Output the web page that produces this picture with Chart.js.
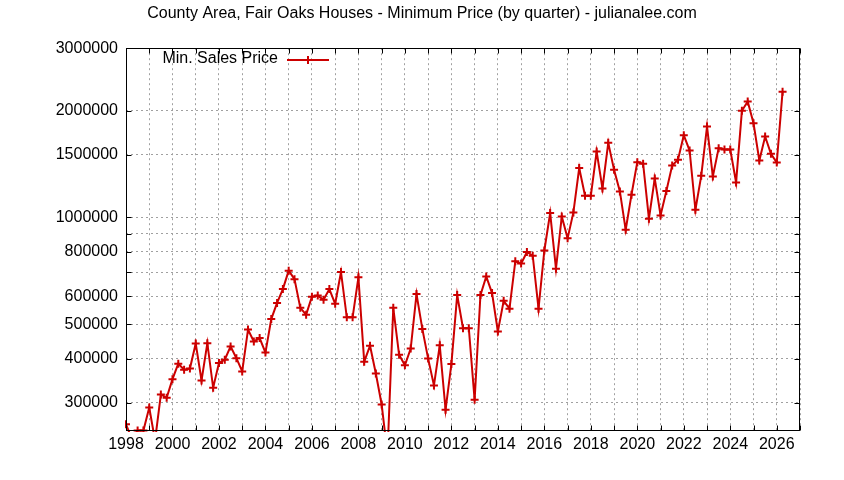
<!DOCTYPE html>
<html>
<head>
<meta charset="utf-8">
<script src="https://cdn.jsdelivr.net/npm/chart.js@4/dist/chart.umd.min.js"></script>
<style>
html,body{margin:0;padding:0;background:#fff;}
#wrap{width:844px;height:480px;position:relative;}
</style>
</head>
<body>
<div id="wrap"><canvas id="c" width="844" height="480"></canvas></div>
<script>
// ---- data ----
const chartTitle = 'County Area, Fair Oaks Houses - Minimum Price (by quarter) - julianalee.com';
const seriesLabel = 'Min. Sales Price';
const firstQuarterYear = 1998;   // first quarter of the series
const quarterStep = 0.25;        // one quarter in years
const minPrices = [
  261000, 238000, 251000, 251000,   // 1998
  291000, 235000, 317000, 310000,   // 1999
  350000, 387000, 372000, 375000,   // 2000
  441000, 347000, 442000, 331000,   // 2001
  389000, 397000, 433000, 401000,   // 2002
  368000, 483000, 447000, 457000,   // 2003
  416000, 517000, 574000, 628000,   // 2004
  708000, 670000, 556000, 532000,   // 2005
  598000, 602000, 586000, 628000,   // 2006
  571000, 702000, 523000, 523000,   // 2007
  678000, 392000, 435000, 363000,   // 2008
  297000, 215000, 556000, 410000,   // 2009
  383000, 427000, 608000, 485000,   // 2010
  400000, 336000, 436000, 287000,   // 2011
  386000, 604000, 487000, 487000,   // 2012
  306000, 604000, 682000, 612000,   // 2013
  477000, 582000, 553000, 752000,   // 2014
  741000, 799000, 780000, 553000,   // 2015
  807000, 1029000, 717000, 1006000, // 2016
  873000, 1033000, 1378000, 1151000,// 2017
  1151000, 1534000, 1207000, 1623000,// 2018
  1362000, 1184000, 923000, 1159000,// 2019
  1432000, 1417000, 992000, 1288000,// 2020
  1013000, 1187000, 1401000, 1454000,// 2021
  1706000, 1544000, 1051000, 1310000,// 2022
  1804000, 1304000, 1568000, 1554000,// 2023
  1554000, 1255000, 1998000, 2122000,// 2024
  1844000, 1447000, 1691000, 1511000,// 2025
  1428000, 2263000                  // 2026
];
const xMinYear = 1998;
const xMaxYear = 2027;
const xLabelYears = [1998, 2000, 2002, 2004, 2006, 2008, 2010, 2012, 2014, 2016, 2018, 2020, 2022, 2024, 2026];
const yMin = 250000;
const yMax = 3000000;
const yGridValues = [300000, 400000, 500000, 600000, 700000, 800000, 900000, 1000000, 1500000, 2000000, 3000000];
const yLabelValues = [300000, 400000, 500000, 600000, 800000, 1000000, 1500000, 2000000, 3000000];

// ---- style ----
const RED = '#cc0000';
const GRID = '#a0a0a0';
const FONT = "'Liberation Sans', Arial, sans-serif";

const points = minPrices.map((v, i) => ({ x: firstQuarterYear + i * quarterStep, y: v }));

Chart.defaults.font.family = FONT;
Chart.defaults.font.size = 16;
Chart.defaults.color = '#000';

const framePlugin = {
  id: 'frame',
  afterLayout(chart) {
    // centre the title over the whole canvas (like the reference)
    const tb = chart.titleBlock;
    if (tb) { tb.left = 0; tb.right = chart.width; tb.width = chart.width; }
  },
  afterDraw(chart) {
    const { ctx, chartArea: a, scales } = chart;
    const xs = scales.x, ys = scales.y;
    const L = Math.round(a.left) + 0.5, R = Math.round(a.right) - 0.5;
    const T = Math.round(a.top) + 0.5, B = Math.round(a.bottom) - 0.5;
    ctx.save();
    ctx.strokeStyle = '#000';
    ctx.lineWidth = 1;
    ctx.setLineDash([]);
    ctx.beginPath();
    xs.ticks.forEach(t => {
      const px = Math.round(xs.getPixelForValue(t.value)) + 0.5;
      ctx.moveTo(px, B); ctx.lineTo(px, B - 5);
      ctx.moveTo(px, T); ctx.lineTo(px, T + 5);
    });
    ys.ticks.forEach(t => {
      const py = Math.round(ys.getPixelForValue(t.value)) + 0.5;
      ctx.moveTo(L, py); ctx.lineTo(L + 5, py);
      ctx.moveTo(R, py); ctx.lineTo(R - 5, py);
    });
    ctx.stroke();
    ctx.strokeRect(L, T, R - L, B - T);

    // key (legend) inside plot, top-left
    const ds = chart.data.datasets[0];
    ctx.font = '16px ' + FONT;
    ctx.fillStyle = '#000';
    ctx.textAlign = 'right';
    ctx.textBaseline = 'middle';
    ctx.fillText(ds.label, 278, 59);
    ctx.strokeStyle = RED;
    ctx.lineWidth = 2;
    ctx.beginPath();
    ctx.moveTo(287, 60); ctx.lineTo(329, 60);
    ctx.moveTo(308, 56); ctx.lineTo(308, 64);
    ctx.stroke();
    ctx.restore();
  }
};

new Chart(document.getElementById('c'), {
  type: 'line',
  data: {
    datasets: [{
      label: seriesLabel,
      data: points,
      borderColor: RED,
      backgroundColor: RED,
      borderWidth: 2,
      tension: 0,
      pointStyle: 'cross',
      pointRadius: 4,
      pointBorderWidth: 2,
      pointBorderColor: RED,
      pointHoverRadius: 4,
      clip: 1,
      fill: false
    }]
  },
  options: {
    responsive: false,
    animation: false,
    devicePixelRatio: 1,
    events: [],
    layout: { padding: { left: 0, right: 44, top: 0, bottom: 0 } },
    plugins: {
      legend: { display: false },
      tooltip: { enabled: false },
      title: {
        display: true,
        text: chartTitle,
        color: '#000',
        font: { size: 16, weight: 'normal', family: FONT },
        padding: { top: 4, bottom: 25 }
      }
    },
    scales: {
      x: {
        type: 'linear',
        min: xMinYear,
        max: xMaxYear,
        afterFit(s) { s.height = 49; },
        afterBuildTicks(s) {
          const t = [];
          for (let yr = xMinYear; yr <= xMaxYear; yr++) t.push({ value: yr });
          s.ticks = t;
        },
        ticks: {
          autoSkip: false,
          maxRotation: 0,
          padding: 4,
          color: '#000',
          callback: (v) => xLabelYears.includes(v) ? String(v) : ''
        },
        grid: { color: GRID, lineWidth: 1, drawTicks: false },
        border: { display: false, dash: [2, 3] }
      },
      y: {
        type: 'logarithmic',
        min: yMin,
        max: yMax,
        afterFit(s) { s.width = 126; },
        afterBuildTicks(s) { s.ticks = yGridValues.map(v => ({ value: v })); },
        ticks: {
          autoSkip: false,
          padding: 8,
          color: '#000',
          callback: (v) => yLabelValues.includes(v) ? String(v) : ''
        },
        grid: { color: GRID, lineWidth: 1, drawTicks: false },
        border: { display: false, dash: [2, 3] }
      }
    }
  },
  plugins: [framePlugin]
});
</script>
</body>
</html>
